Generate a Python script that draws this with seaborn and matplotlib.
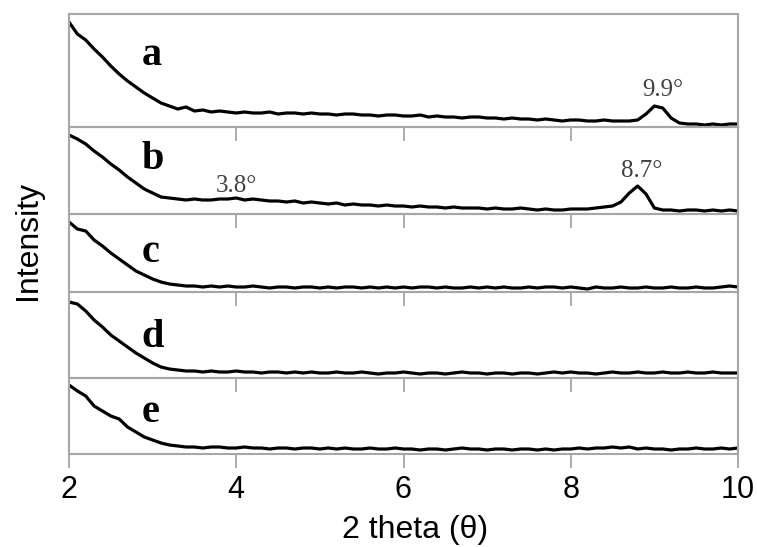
import matplotlib
matplotlib.use("Agg")
import matplotlib.pyplot as plt
import seaborn as sns
import pandas as pd

# 2 theta grid (deg)
two_theta = [
    2.0, 2.1, 2.2, 2.3, 2.4, 2.5, 2.6, 2.7, 2.8, 2.9,
    3.0, 3.1, 3.2, 3.3, 3.4, 3.5, 3.6, 3.7, 3.8, 3.9,
    4.0, 4.1, 4.2, 4.3, 4.4, 4.5, 4.6, 4.7, 4.8, 4.9,
    5.0, 5.1, 5.2, 5.3, 5.4, 5.5, 5.6, 5.7, 5.8, 5.9,
    6.0, 6.1, 6.2, 6.3, 6.4, 6.5, 6.6, 6.7, 6.8, 6.9,
    7.0, 7.1, 7.2, 7.3, 7.4, 7.5, 7.6, 7.7, 7.8, 7.9,
    8.0, 8.1, 8.2, 8.3, 8.4, 8.5, 8.6, 8.7, 8.8, 8.9,
    9.0, 9.1, 9.2, 9.3, 9.4, 9.5, 9.6, 9.7, 9.8, 9.9,
    10.0,
]

# intensities (arbitrary units)
int_a = [
    105, 93, 87, 78, 70, 61, 53, 46, 40, 34,
    29, 24, 21, 18, 20, 16, 17, 15, 16, 15,
    14, 15, 14, 14, 15, 13, 14, 14, 13, 14,
    13, 13, 12, 13, 13, 12, 12, 11, 12, 12,
    11, 11, 12, 10, 11, 10, 10, 9, 10, 10,
    9, 9, 8, 9, 8, 8, 7, 8, 7, 6,
    7, 7, 6, 6, 7, 6, 6, 6, 7, 13,
    21, 19, 9, 4, 3, 3, 2, 3, 2, 3,
    3,
]
int_b = [
    79, 75, 70, 63, 57, 50, 44, 37, 31, 25,
    21, 17, 16, 15, 14, 15, 14, 14, 15, 15,
    16, 14, 15, 14, 13, 13, 12, 13, 11, 12,
    11, 10, 11, 9, 10, 9, 9, 8, 9, 8,
    8, 7, 8, 7, 7, 6, 7, 6, 6, 6,
    5, 6, 5, 5, 6, 5, 4, 5, 4, 4,
    5, 5, 5, 6, 7, 8, 12, 21, 28, 20,
    6, 4, 4, 3, 4, 4, 3, 4, 3, 4,
    3,
]
int_c = [
    70, 63, 61, 52, 46, 39, 33, 27, 21, 17,
    13, 10, 8, 7, 6, 6, 5, 6, 5, 6,
    5, 5, 6, 5, 4, 5, 5, 4, 5, 5,
    4, 5, 4, 5, 5, 4, 5, 4, 5, 4,
    5, 4, 5, 5, 4, 5, 4, 4, 5, 4,
    5, 4, 5, 4, 4, 5, 4, 5, 5, 4,
    5, 4, 3, 5, 4, 4, 5, 4, 4, 5,
    4, 4, 5, 4, 4, 5, 4, 4, 5, 6,
    5,
]
int_d = [
    76, 74, 67, 58, 51, 43, 37, 31, 25, 20,
    15, 11, 9, 8, 7, 7, 6, 7, 6, 6,
    7, 6, 6, 5, 6, 6, 5, 6, 5, 6,
    5, 5, 6, 5, 5, 6, 5, 4, 5, 5,
    6, 5, 4, 5, 5, 4, 5, 6, 5, 5,
    4, 5, 5, 4, 5, 5, 4, 5, 6, 5,
    6, 5, 5, 4, 5, 6, 5, 5, 6, 5,
    5, 6, 5, 5, 6, 5, 5, 6, 5, 5,
    5,
]
int_e = [
    69, 63, 58, 48, 43, 38, 35, 27, 22, 17,
    14, 11, 9, 8, 7, 7, 6, 7, 7, 6,
    6, 7, 6, 6, 5, 6, 6, 5, 6, 6,
    5, 6, 5, 6, 5, 5, 6, 5, 5, 6,
    5, 5, 4, 5, 5, 4, 5, 6, 5, 5,
    4, 5, 5, 4, 5, 5, 4, 5, 4, 5,
    5, 6, 5, 6, 6, 7, 6, 7, 5, 6,
    5, 5, 4, 5, 5, 6, 5, 5, 6, 5,
    6,
]

sample_labels = ["a", "b", "c", "d", "e"]
panel_tops = [113, 87, 78, 86, 76]
label_heights = [62, 45, 30, 31, 32]
peak_notes = {
    "a": [(9.1, 31, "9.9°")],
    "b": [(4.0, 22, "3.8°"), (8.85, 37, "8.7°")],
}

df = pd.DataFrame({"two_theta": two_theta, "a": int_a, "b": int_b,
                   "c": int_c, "d": int_d, "e": int_e})

sns.set_style("white")
plt.rcParams["font.family"] = ["Liberation Sans", "DejaVu Sans"]
plt.rcParams["text.color"] = "black"
plt.rcParams["xtick.labelcolor"] = "black"

fig, axes = plt.subplots(5, 1, figsize=(7.57, 5.47), dpi=100, sharex=True,
                         gridspec_kw={"height_ratios": panel_tops, "hspace": 0})
fig.subplots_adjust(left=69 / 757, right=738 / 757, top=1 - 14 / 547, bottom=1 - 454 / 547)

spine_col = "#a6a6a6"
for ax, lab, top, lh in zip(axes, sample_labels, panel_tops, label_heights):
    ax.set_facecolor("none")
    sns.lineplot(data=df, x="two_theta", y=lab, ax=ax, color="black", linewidth=2.3)
    ax.set_xlim(2, 10)
    ax.set_ylim(0, top)
    ax.set_yticks([])
    ax.set_ylabel("")
    ax.set_xlabel("")
    ax.set_xticks([2, 4, 6, 8, 10])
    ax.tick_params(axis="x", direction="out", length=10, width=1.3, color=spine_col,
                   bottom=True, labelsize=22, labelcolor="black", pad=5)
    for s in ax.spines.values():
        s.set_color(spine_col)
        s.set_linewidth(1.5)
    ax.text(2.87, lh, lab, family=["Liberation Serif"], fontweight="bold", fontsize=29,
            color="black", ha="left", va="baseline")
    for xp, yp, txt in peak_notes.get(lab, []):
        ax.text(xp, yp, txt, family=["Liberation Serif"], fontsize=18, color="#404040",
                ha="center", va="baseline")

axes[-1].set_xlabel("2 theta (θ)", fontsize=23, color="black")
axes[-1].xaxis.set_label_coords((415 - 69) / 669, -0.80)
axes[-1].xaxis.label.set_va("top")
fig.text(28 / 757, 1 - 240 / 547, "Intensity", rotation=90, fontsize=23,
         color="black", ha="center", va="center")

fig.savefig("out.png", dpi=100)
